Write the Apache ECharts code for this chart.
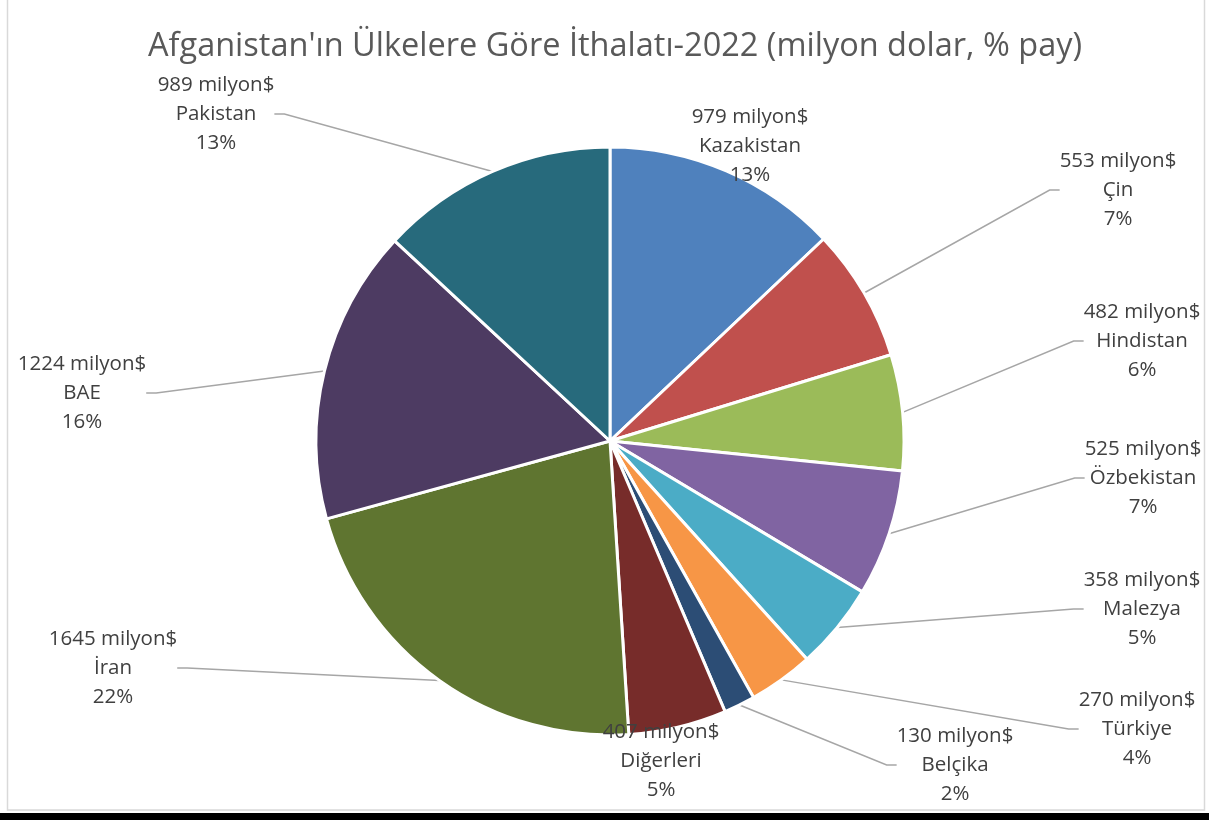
<!DOCTYPE html>
<html><head><meta charset="utf-8">
<script src="https://cdn.jsdelivr.net/npm/echarts@6/dist/echarts.min.js"></script>
<style>html,body{margin:0;padding:0;background:#fff}#c{width:1209px;height:820px}</style>
</head><body><div id="c"></div>
<script>
var countries = ['Kazakistan','Çin','Hindistan','Özbekistan','Malezya','Türkiye','Belçika','Diğerleri','İran','BAE','Pakistan'];
var values = [979,553,482,525,358,270,130,407,1645,1224,989];
var colors = ['#4F81BD','#C0504D','#9BBB59','#8064A2','#4BACC6','#F79646','#2C4D75','#772C2A','#5F7530','#4D3B62','#276A7C'];
// label anchor positions (center x, middle y of text block)
var labelPos = [[750,146],[1118,190],[1142,341],[1143,478],[1142,609],[1137,729],[955,765],[661,761],[113,668],[82,393],[216,114]];
var noLine = {'Kazakistan':true,'Diğerleri':true};

var chart = echarts.init(document.getElementById('c'));
var data = countries.map(function(n,i){
  return {name:n, value:values[i], itemStyle:{color:colors[i]}, labelLine:{show:!noLine[n]}};
});
chart.setOption({
  animation:false,
  title:{text:"Afganistan'ın Ülkelere Göre İthalatı-2022 (milyon dolar, % pay)",left:143,top:25,
    textStyle:{fontFamily:'Open Sans',fontSize:32.5,fontWeight:'normal',color:'#595959'}},
  graphic:[
    {type:'rect',shape:{x:7.5,y:-2,width:1197,height:812},style:{fill:'none',stroke:'#d9d9d9',lineWidth:1.5},silent:true},
    {type:'rect',shape:{x:0,y:813,width:1209,height:7},style:{fill:'#000'},silent:true}
  ],
  series:[{
    type:'pie',
    center:[610,441],
    radius:294,
    startAngle:90,
    clockwise:true,
    percentPrecision:0,
    data:data,
    itemStyle:{borderColor:'#fff',borderWidth:3},
    label:{show:true,position:'outside',formatter:'{c} milyon$\n{b}\n{d}%',
      fontFamily:'Open Sans',fontSize:20.5,lineHeight:29,color:'#404040',align:'center'},
    labelLine:{show:true,length:20,length2:10,smooth:false,lineStyle:{color:'#a6a6a6',width:1.5}},
    labelLayout:function(p){
      var pos = labelPos[p.dataIndex];
      return {x:pos[0],y:pos[1],align:'center',verticalAlign:'middle'};
    }
  }]
});
</script></body></html>
